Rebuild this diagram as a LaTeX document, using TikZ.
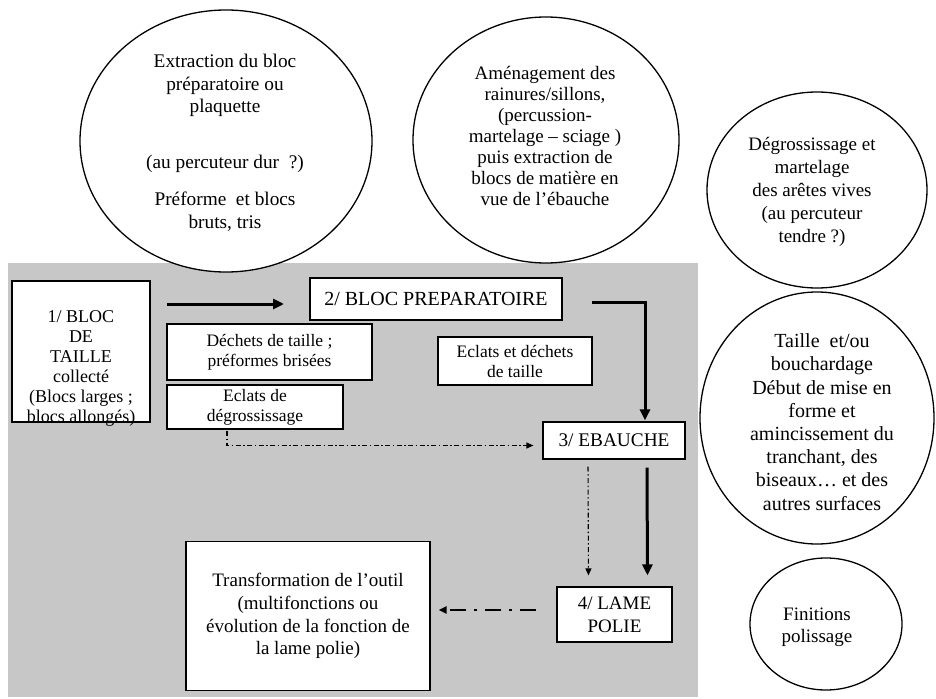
\documentclass[tikz,border=0pt]{standalone}
\usepackage{fontspec}
\setmainfont{Liberation Serif}
\usetikzlibrary{shapes.geometric,arrows.meta,calc}
\definecolor{bggray}{RGB}{199,199,199}
\tikzset{
  oval/.style={ellipse,draw,line width=1.3bp,fill=white,inner sep=0pt},
  txt/.style={align=center,font=\fontsize{19.3bp}{22.5bp}\selectfont,inner sep=0pt},
  stxt/.style={align=center,font=\fontsize{17.5bp}{20bp}\selectfont,inner sep=0pt},
  box/.style={draw,line width=1.2bp,fill=white,inner sep=0pt},
  bigarrow/.style={line width=3bp,-{Triangle[length=11bp,width=10bp]}},
  dasharrow/.style={line width=1.1bp,dash pattern=on 5bp off 2.5bp on 1.5bp off 2.5bp,-{Triangle[length=7bp,width=6bp]}},
  backarrow/.style={line width=2.2bp,dash pattern=on 16bp off 8bp on 3bp off 8bp,-{Triangle[length=8bp,width=7bp]}},
}
\begin{document}
\begin{tikzpicture}[x=1bp,y=-1bp]
\useasboundingbox (0,0) rectangle (936,699);
\fill[white] (0,0) rectangle (936,699);
\fill[bggray] (8,263) rectangle (698,697);

% ellipses
\node[oval,minimum width=292bp,minimum height=262bp] (e1) at (226,141) {};
\node[txt] (e1t) at (225,143) {Extraction du bloc\\préparatoire ou\\plaquette\\[33bp](au percuteur dur\ \ ?)\\[15bp]Préforme\ \ et blocs\\bruts, tris};

\node[oval,minimum width=266bp,minimum height=246bp] (e2) at (546,140) {};
\node[txt,font=\fontsize{19bp}{21bp}\selectfont] (e2t) at (545,136) {Aménagement des\\rainures/sillons,\\(percussion-\\martelage – sciage )\\puis extraction de\\blocs de matière en\\vue de l'ébauche};

\node[oval,minimum width=220bp,minimum height=196bp] (e3) at (817,190) {};
\node[txt,font=\fontsize{19bp}{23bp}\selectfont] (e3t) at (812,192) {Dégrossissage et\\martelage\\ des arêtes vives\\(au percuteur\\tendre ?)};

\node[oval,minimum width=234bp,minimum height=252bp] (e4) at (817,418) {};
\node[txt,font=\fontsize{20bp}{23.2bp}\selectfont] (e4t) at (822,422) {Taille\ \ et/ou\\bouchardage\\Début de mise en\\forme et\\amincissement du\\tranchant, des\\biseaux… et des\\autres surfaces};

\node[oval,minimum width=152bp,minimum height=132bp] (e5) at (826,624) {};
\node[txt,font=\fontsize{19bp}{22bp}\selectfont] (e5t) at (817,627) {Finitions\\polissage};

% boxes
\node[box,minimum width=138bp,minimum height=141bp] (b1) at (81,351.5) {};
\node[txt,font=\fontsize{18bp}{20bp}\selectfont] (b1t) at (81,368) {1/ BLOC\\DE\\TAILLE\\collecté\\(Blocs larges ;\\blocs allongés)};

\node[box,minimum width=252bp,minimum height=42bp,txt,font=\fontsize{20bp}{22bp}\selectfont] (b2) at (436,299) {2/ BLOC PREPARATOIRE};
\node[box,minimum width=205bp,minimum height=56bp,stxt] (dt) at (269.5,352) {Déchets de taille ;\\préformes brisées};
\node[box,minimum width=176bp,minimum height=44bp,stxt] (dg) at (255,407) {Eclats de\\dégrossissage};
\node[box,minimum width=154bp,minimum height=48bp,stxt] (ed) at (515,361) {Eclats et déchets\\de taille};
\node[box,minimum width=142bp,minimum height=37bp,txt] (eb) at (614,440.5) {3/ EBAUCHE};
\node[box,minimum width=115bp,minimum height=55bp,txt,font=\fontsize{19bp}{23bp}\selectfont] (lp) at (614.5,614.5) {4/ LAME\\POLIE};
\node[box,minimum width=244bp,minimum height=149bp,txt,font=\fontsize{19bp}{22.7bp}\selectfont] (tr) at (308,616) {Transformation de l’outil\\(multifonctions ou\\évolution de la fonction de\\la lame polie)};

% connectors
\coordinate (a1s) at (167,304);
\coordinate (a1e) at (284,304);
\draw[bigarrow] (a1s) -- (a1e);

\coordinate (c2) at (592,302);
\draw[line width=3bp,-{Triangle[length=11bp,width=10bp]}] (c2) -| ([xshift=31bp,yshift=1bp]eb.north);

\coordinate (c3) at (227,431);
\draw[dasharrow,shorten >=9bp] (c3) |- ([yshift=-5bp]eb.west);

\draw[dasharrow,shorten <=7bp,shorten >=11bp] ([xshift=-26bp]eb.south) -- ([xshift=-26bp]lp.north);
\draw[bigarrow,shorten <=8bp,shorten >=11bp] ([xshift=33bp]eb.south) -- ([xshift=33bp]lp.north);

\coordinate (bs) at ([yshift=4.5bp]lp.west);
\draw[backarrow,shorten <=20bp,shorten >=8bp] (bs) -- (tr.east |- bs);
\end{tikzpicture}
\end{document}
